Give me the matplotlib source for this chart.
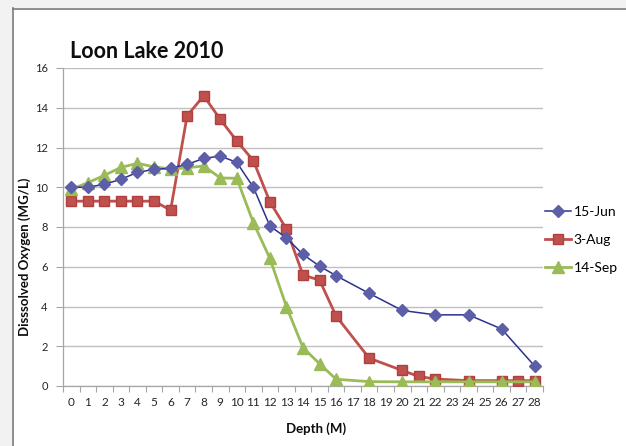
import matplotlib.pyplot as plt
from matplotlib.patches import Rectangle
from matplotlib.lines import Line2D

# depth categories shown on the x axis
depth_labels = [str(d) for d in range(29)]

jun_depth = [0, 1, 2, 3, 4, 5, 6, 7, 8, 9, 10, 11, 12, 13, 14, 15, 16, 18, 20, 22, 24, 26, 28]
jun_do = [10.0, 10.0, 10.15, 10.4, 10.75, 10.9, 10.95, 11.15, 11.45, 11.57, 11.25, 10.0,
          8.05, 7.45, 6.62, 6.03, 5.55, 4.66, 3.8, 3.58, 3.58, 2.87, 1.0]

aug_depth = [0, 1, 2, 3, 4, 5, 6, 7, 8, 9, 10, 11, 12, 13, 14, 15, 16, 18, 20, 21, 22, 24, 26, 27, 28]
aug_do = [9.3, 9.3, 9.3, 9.3, 9.3, 9.3, 8.85, 13.6, 14.6, 13.42, 12.33, 11.34, 9.27, 7.9,
          5.58, 5.33, 3.52, 1.4, 0.78, 0.48, 0.35, 0.27, 0.27, 0.27, 0.27]

sep_depth = [0, 1, 2, 3, 4, 5, 6, 7, 8, 9, 10, 11, 12, 13, 14, 15, 16, 18, 20, 22, 24, 26, 28]
sep_do = [9.9, 10.23, 10.6, 11.0, 11.2, 11.03, 10.92, 10.98, 11.07, 10.47, 10.45, 8.22,
          6.42, 3.99, 1.93, 1.12, 0.34, 0.22, 0.21, 0.21, 0.21, 0.21, 0.21]

FONT = ['Lato', 'DejaVu Sans']
plt.rcParams['font.family'] = FONT

fig = plt.figure(figsize=(6.26, 4.46), dpi=100)
W, H = 626, 446

# screenshot frame: light gray strip on left/top and dark border
fig.patches.append(Rectangle((0, 0), 12 / W, 1, transform=fig.transFigure,
                             facecolor='#f2f2f2', edgecolor='none', zorder=0))
fig.patches.append(Rectangle((0, 1 - 8 / H), 1, 8 / H, transform=fig.transFigure,
                             facecolor='#f2f2f2', edgecolor='none', zorder=0))
fig.lines.append(Line2D([12.5 / W, 12.5 / W], [0, 1 - 8 / H], transform=fig.transFigure,
                        color='#7a7a7a', lw=1.2))
fig.lines.append(Line2D([12.5 / W, 1], [1 - 8.5 / H, 1 - 8.5 / H], transform=fig.transFigure,
                        color='#7a7a7a', lw=1.2))

ax = fig.add_axes([63 / W, 1 - 386 / H, (543 - 63) / W, (386 - 68) / H])

ax.plot(jun_depth, jun_do, color='#2b3190', lw=1.1, marker='D', ms=6.5,
        mfc='#5c5fa8', mec='#5c5fa8', label='15-Jun', zorder=4)
ax.plot(aug_depth, aug_do, color='#c0504d', lw=2.0, marker='s', ms=7,
        mfc='#c0504d', mec='#b0403d', label='3-Aug', zorder=3)
ax.plot(sep_depth, sep_do, color='#9bbb59', lw=2.0, marker='^', ms=8.5,
        mfc='#9bbb59', mec='#9bbb59', label='14-Sep', zorder=3)

ax.set_xlim(-0.5, 28.5)
ax.set_ylim(0, 16)
ax.set_yticks(range(0, 17, 2))
ax.set_xticks(range(29))
ax.set_xticklabels(depth_labels)
ax.set_xticks([x - 0.5 for x in range(30)], minor=True)
ax.tick_params(axis='x', which='major', length=0, pad=8, labelsize=8.5, colors='#262626')
ax.tick_params(axis='x', which='minor', length=4, width=0.8, color='#a6a6a6', direction='out')
ax.tick_params(axis='y', length=5, width=0.8, color='#a6a6a6', labelsize=8,
               labelcolor='#262626', pad=6)

ax.grid(axis='y', color='#bfbfbf', lw=1)
ax.set_axisbelow(True)
for s in ['top', 'right']:
    ax.spines[s].set_visible(False)
for s in ['left', 'bottom']:
    ax.spines[s].set_color('#a6a6a6')
    ax.spines[s].set_linewidth(0.9)

fig.text(70 / W, 1 - 52 / H, 'Loon Lake 2010', fontsize=15.5, fontweight='bold',
         ha='left', va='center', color='#0d0d0d')
fig.text(316 / W, 1 - 429 / H, 'Depth (M)', fontsize=9.5, fontweight='bold',
         ha='center', va='center', color='#0d0d0d')
fig.text(25 / W, 1 - 257 / H, 'Disssolved Oxygen (MG/L)', fontsize=9.5, fontweight='bold',
         ha='center', va='center', rotation=90, color='#0d0d0d')

fig.legend(loc='center left', bbox_to_anchor=(545 / W, 1 - 240 / H), frameon=False,
           fontsize=10, handlelength=1.9, handletextpad=0.15, labelspacing=1.15,
           borderaxespad=0, borderpad=0)

fig.savefig('out.png', dpi=100)
